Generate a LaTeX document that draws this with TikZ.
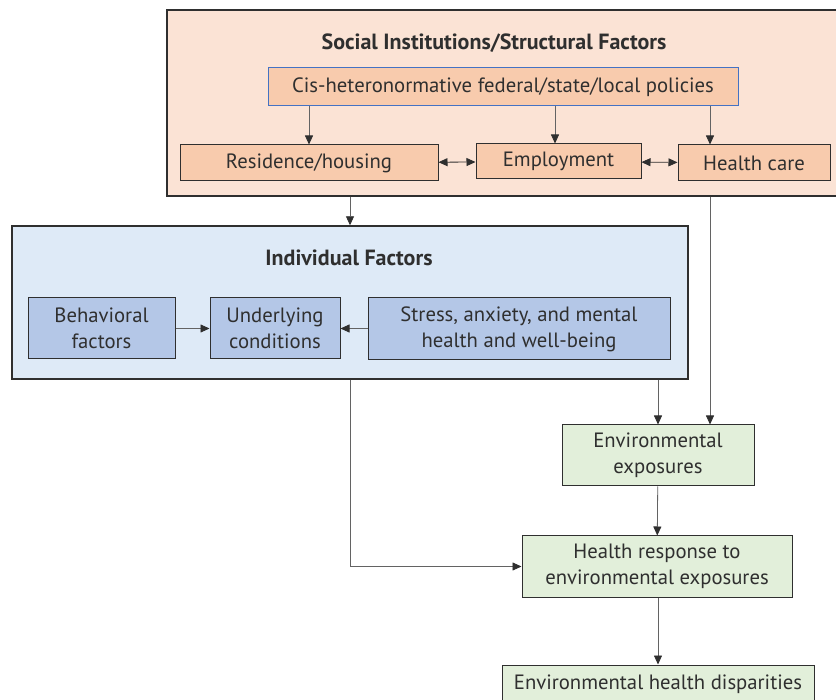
\documentclass[tikz,border=0pt]{standalone}
\usepackage{fontspec}
\setmainfont{PT Sans}
\usetikzlibrary{arrows.meta}

\definecolor{socbg}{HTML}{FBE3D5}
\definecolor{peach}{HTML}{F8CBAD}
\definecolor{polblue}{HTML}{4472C4}
\definecolor{indbg}{HTML}{DEEAF7}
\definecolor{indbox}{HTML}{B4C7E7}
\definecolor{envgreen}{HTML}{E2EFDA}
\definecolor{edge}{HTML}{2F2F2F}

\begin{document}
\begin{tikzpicture}[x=1pt,y=-1pt,
	every node/.style={font=\fontsize{20.7}{26}\selectfont, text=edge, inner sep=0pt},
	frame/.style={draw=edge, line width=1.4pt, rectangle},
	box/.style={draw=edge, line width=1pt, rectangle, align=center},
	title/.style={font=\fontsize{22}{26}\selectfont\bfseries},
	arr/.style={-{Triangle[length=9,width=8,color=edge]}, draw=edge!75, line width=0.8pt},
	darr/.style={{Triangle[length=9,width=8]}-{Triangle[length=9,width=8]}, draw=edge, line width=0.8pt}]
	\clip (0,0) rectangle (836,700);
	\fill[white] (0,0) rectangle (836,700);
	% outer frames
		\node[frame, fill=socbg, minimum width=683, minimum height=186] (social) at (508.5,103) {};
		\node[title] (soctitle) at (494,43) {Social Institutions/Structural Factors};
		\node[frame, fill=indbg, minimum width=676, minimum height=153] (indiv) at (350,302.5) {};
		\node[title] (indtitle) at (349,258) {Individual Factors};
	% structural boxes
		\node[box, draw=polblue, fill=peach, minimum width=470, minimum height=38] (policy) at (503,87) {Cis-heteronormative federal/state/local policies};
		\node[box, fill=peach, minimum width=258, minimum height=36] (res) at (309,163) {Residence/housing};
		\node[box, fill=peach, minimum width=165, minimum height=35] (emp) at (558.5,161.5) {Employment};
		\node[box, fill=peach, minimum width=152, minimum height=36] (care) at (754,163) {Health care};
	% individual boxes
		\node[box, fill=indbox, minimum width=147, minimum height=61] (beh) at (101.5,328.5) {Behavioral\\factors};
		\node[box, fill=indbox, minimum width=130, minimum height=61] (und) at (275,328.5) {Underlying\\conditions};
		\node[box, fill=indbox, minimum width=302, minimum height=62] (stress) at (519,329) {Stress, anxiety, and mental\\health and well-being};
	% outcome boxes
		\node[box, fill=envgreen, minimum width=192, minimum height=61] (env) at (658,455.5) {Environmental\\exposures};
		\node[box, fill=envgreen, minimum width=270, minimum height=61] (resp) at (657,566.5) {Health response to\\environmental exposures};
		\node[box, fill=envgreen, minimum width=312, minimum height=38] (disp) at (658,684) {Environmental health disparities};
		\coordinate (carex) at (710,0);
		\coordinate (empx) at (555,0);
	% connectors
		\draw[arr] (policy.south -| res.north) -- (res.north);
		\draw[arr] (policy.south -| empx) -- (emp.north -| empx);
		\draw[arr] (policy.south -| carex) -- (care.north -| carex);
		\draw[darr] (res) -- (emp);
		\draw[darr] (emp) -- (care);
		\draw[arr] (social.south -| indiv.north) -- (indiv.north);
		\draw[arr] (social.south -| carex) -- (env.north -| carex);
		\draw[arr] (beh) -- (und);
		\draw[arr] (stress.west |- und.east) -- (und.east);
		\draw[arr] (indiv.south -| env.north) -- (env.north);
		\draw[arr] (indiv.south) |- (resp.west);
		\draw[arr] (env) -- (resp);
		\draw[arr] (resp.south -| disp.north) -- (disp.north);
\end{tikzpicture}
\end{document}
